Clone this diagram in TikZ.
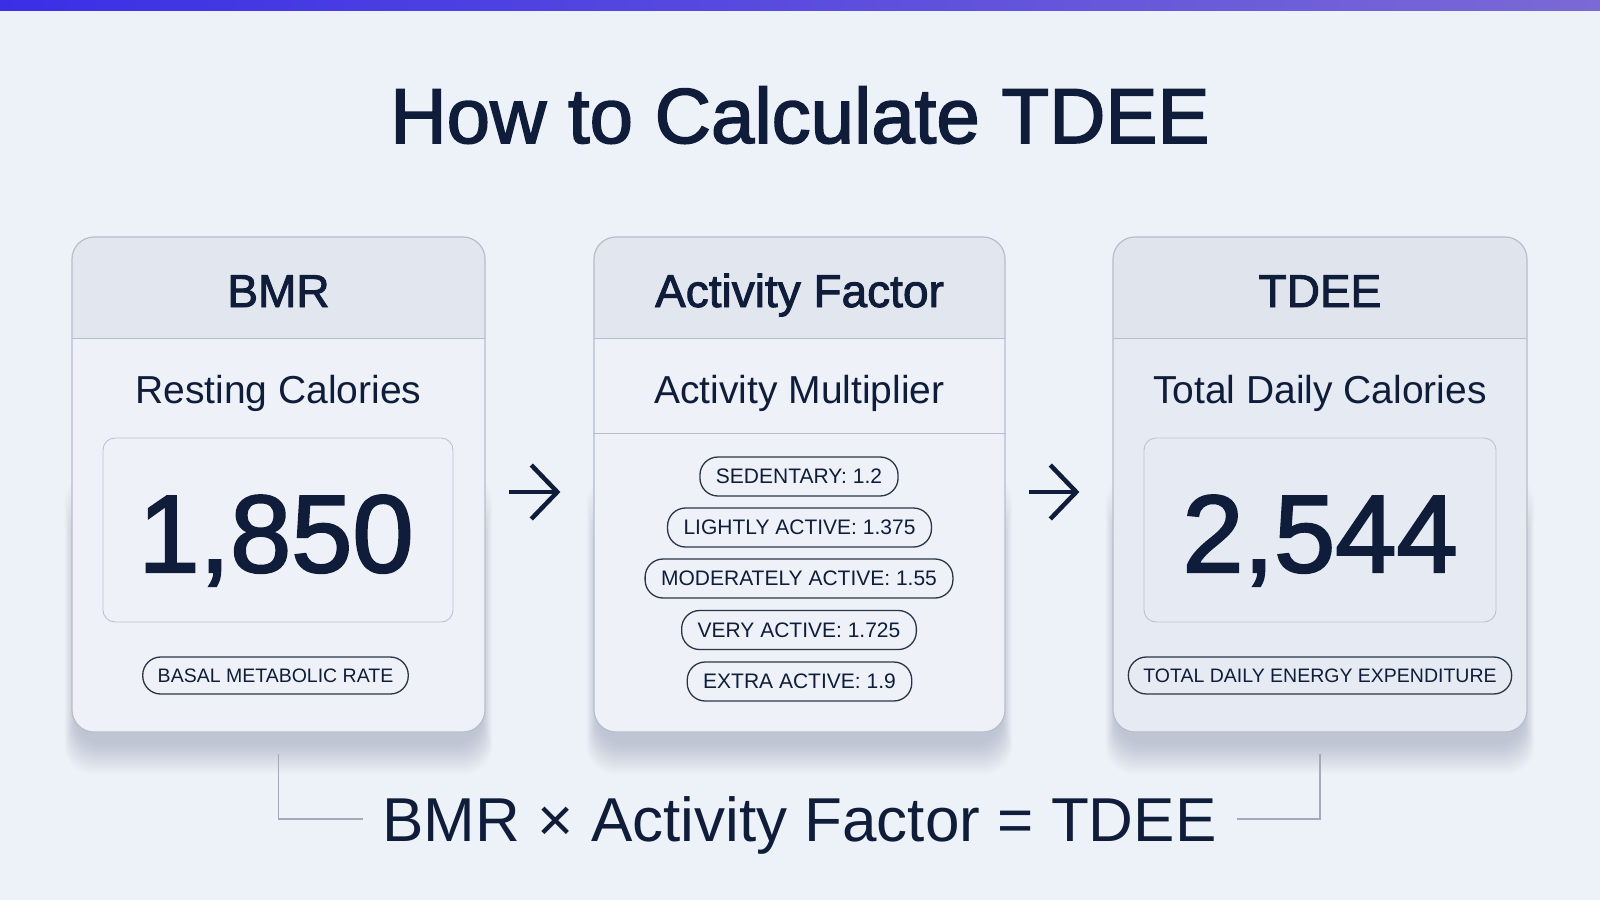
\documentclass[tikz,border=0pt]{standalone}
\usepackage{fontspec}
\setmainfont{Liberation Sans}
\newfontfamily\medfont[FakeBold=2]{Liberation Sans}
\usetikzlibrary{arrows.meta}
\usepackage{xcolor}

\definecolor{pagebg}{HTML}{EDF1F8}
\definecolor{barL}{HTML}{3A2FE6}
\definecolor{barR}{HTML}{7B69D6}
\definecolor{ink}{HTML}{0F1D3A}
\definecolor{cardline}{HTML}{B7BECB}
\definecolor{cardbody}{HTML}{EEF2F8}
\definecolor{cardhead}{HTML}{E2E7EF}
\definecolor{tdeebody}{HTML}{E6EBF3}
\definecolor{tdeehead}{HTML}{DFE4ED}
\definecolor{boxline}{HTML}{BCC3CF}
\definecolor{pillline}{HTML}{2B3446}
\definecolor{brk}{HTML}{A3AAB8}
\definecolor{shadowc}{HTML}{1C2540}

% soft shadow under a card, from left to right edge
\newcommand{\cardshadow}[2]{%
  \foreach \k in {1,...,16}
    \fill[shadowc,opacity=0.011,rounded corners=28pt] (#1-8+\k*0.7,470+\k*4) rectangle (#2+8-\k*0.7,776-2*\k);
}

\begin{document}
\begin{tikzpicture}[x=1pt,y=-1pt,
card/.style={draw=cardline,line width=1.2pt,fill=cardbody,rounded corners=22pt,
  minimum width=413pt,minimum height=495pt,inner sep=0pt,
  path picture={
    \fill[#1,sharp corners] (path picture bounding box.north west) rectangle ([yshift=-101pt]path picture bounding box.north east);
    \draw[cardline,line width=1pt,sharp corners] ([yshift=-101pt]path picture bounding box.north west) -- ([yshift=-101pt]path picture bounding box.north east);
  }},
card/.default=cardhead,
valbox/.style={draw=boxline,line width=0.9pt,rounded corners=12pt,minimum width=350pt,minimum height=184pt,inner sep=0pt},
hdr/.style={font=\medfont\fontsize{46}{50}\selectfont,text=ink,anchor=base,inner sep=0pt},
sub/.style={font=\fontsize{39}{44}\selectfont,text=ink,anchor=base,inner sep=0pt},
bignum/.style={font=\medfont\fontsize{110}{120}\selectfont,text=ink,anchor=base,inner sep=0pt},
pill/.style={draw=pillline,line width=1.3pt,rounded corners=18pt,minimum height=37pt,inner xsep=15pt,inner ysep=0pt,
  font=\fontsize{19.5}{22}\selectfont,text=ink},
actpill/.style={pill,minimum height=39pt,inner xsep=16pt,font=\fontsize{21}{24}\selectfont},
flow/.style={-{Straight Barb[length=26pt,width=54pt]},line width=4.5pt,draw=ink,shorten <=23pt,shorten >=33pt},
bracket/.style={draw=brk,line width=1.6pt}]

\useasboundingbox (0,0) rectangle (1600,900);
\fill[pagebg] (0,0) rectangle (1600,900);
\shade[left color=barL,right color=barR] (0,0) rectangle (1600,10);

% title
\node[font=\medfont\fontsize{78}{84}\selectfont,text=ink,anchor=base,inner sep=0pt] (title) at (800,143) {How to Calculate TDEE};

% shadows, then the three cards
\cardshadow{72}{485}
\cardshadow{594}{1005}
\cardshadow{1113}{1527}
\node[card] (bmr) at (278.5,484.5) {};
\node[card,minimum width=411pt] (act) at (799.5,484.5) {};
\node[card=tdeehead,fill=tdeebody,minimum width=414pt] (tdee) at (1320,484.5) {};

% BMR
\node[hdr] (bmrhead) at (278.5,307) {BMR};
\node[sub] (bmrsub) at (278.5,403) {Resting Calories};
\node[valbox] (bmrbox) at (278,530) {};
\node[bignum] (bmrval) at (276,572) {1,850};
\node[pill] (bmrpill) at (275.5,675.5) {BASAL METABOLIC RATE};

% activity factor
\node[hdr] (acthead) at (799.5,307) {Activity Factor};
\node[sub] (actsub) at (799.5,403) {Activity Multiplier};
\draw[cardline,line width=1pt] (act.west |- 0,433) -- (act.east |- 0,433);
\node[actpill] (sed) at (799,476.5) {SEDENTARY: 1.2};
\node[actpill] (light) at (799.5,527.5) {LIGHTLY ACTIVE: 1.375};
\node[actpill] (moder) at (799,578.5) {MODERATELY ACTIVE: 1.55};
\node[actpill] (very) at (799,630) {VERY ACTIVE: 1.725};
\node[actpill] (extra) at (799.5,681.5) {EXTRA ACTIVE: 1.9};

% TDEE
\node[hdr] (tdeehead) at (1320,307) {TDEE};
\node[sub] (tdeesub) at (1320,403) {Total Daily Calories};
\node[valbox,minimum width=352pt] (tdeebox) at (1320,530) {};
\node[bignum] (tdeeval) at (1320,572) {2,544};
\node[pill] (tdeepill) at (1320,675.5) {TOTAL DAILY ENERGY EXPENDITURE};

% arrows
\draw[flow] ([yshift=-7.5pt]bmr.east) -- ([yshift=-7.5pt]act.west);
\draw[flow] ([yshift=-7.5pt]act.east) -- ([yshift=-7.5pt]tdee.west);

% formula
\node[font=\fontsize{62}{68}\selectfont,text=ink,anchor=base,inner sep=0pt] (eq) at (799.5,841) {BMR × Activity Factor = TDEE};
\draw[bracket] ([yshift=-21pt]bmr.south) |- ([xshift=-19pt,yshift=6pt]eq.west);
\draw[bracket] ([yshift=-21pt]tdee.south) |- ([xshift=20pt,yshift=6pt]eq.east);
\end{tikzpicture}
\end{document}
